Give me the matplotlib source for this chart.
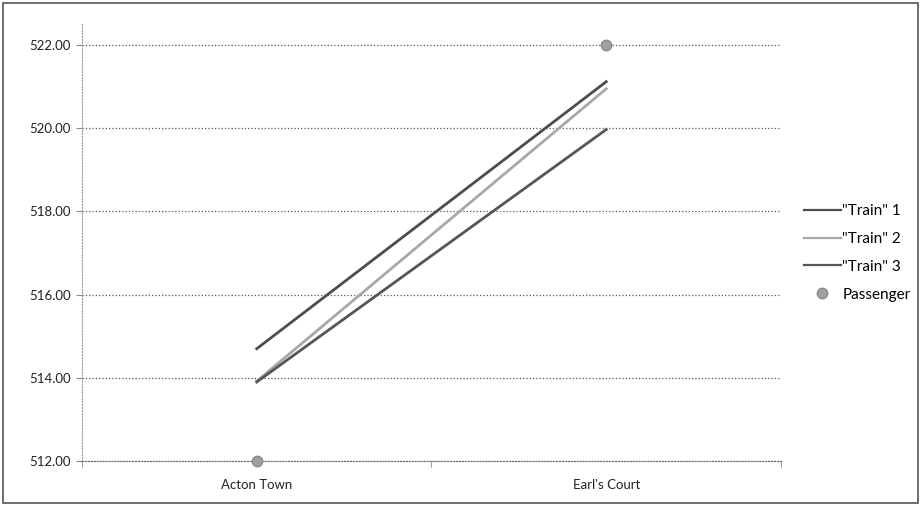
import matplotlib.pyplot as plt
from matplotlib.patches import Rectangle

plt.rcParams['font.family'] = ['Lato', 'DejaVu Sans']

# stations along the x axis
stations = ["Acton Town", "Earl's Court"]

# time values per series
train1 = [514.70, 521.12]
train2 = [513.92, 520.95]
train3 = [513.90, 519.97]
passenger = [512.00, 522.00]

yticks = [512, 514, 516, 518, 520, 522]

fig = plt.figure(figsize=(9.21, 5.12), dpi=100)
ax = fig.add_axes([0.089, 0.0996, 0.759, 0.853])

x = list(range(len(stations)))
ax.plot(x, train1, color='#4d4d4d', lw=2.0, label='"Train" 1', zorder=3)
ax.plot(x, train2, color='#a8a8a8', lw=2.0, label='"Train" 2', zorder=3)
ax.plot(x, train3, color='#555555', lw=2.0, label='"Train" 3', zorder=3)
ax.plot(x, passenger, ls='none', marker='o', ms=7.5, color='#a0a0a0',
        markeredgecolor='#8a8a8a', label='Passenger', zorder=4, clip_on=False)

ax.set_xlim(-0.5, 1.5)
ax.set_ylim(512, 522.5)
ax.set_yticks(yticks)
ax.set_yticklabels([f"{v:.2f}" for v in yticks])
ax.set_xticks(x)
ax.set_xticklabels(stations)
ax.set_xticks([-0.5, 0.5, 1.5], minor=True)
ax.tick_params(axis='x', which='major', length=0, pad=13, labelsize=9.5, colors='#222222')
ax.tick_params(axis='x', which='minor', length=4, color='#888888')
ax.tick_params(axis='y', length=4, color='#888888', labelsize=9.5, colors='#222222', pad=4)
ax.yaxis.grid(True, ls=':', color='#555555', lw=0.9)
ax.set_axisbelow(True)

for s in ['top', 'right']:
    ax.spines[s].set_visible(False)
ax.spines['left'].set_color('#999999')
ax.spines['left'].set_linestyle(':')
ax.spines['bottom'].set_color('#666666')
ax.spines['bottom'].set_linestyle(':')

leg = ax.legend(loc='center left', bbox_to_anchor=(0.873, 0.506), bbox_transform=fig.transFigure,
                frameon=False, fontsize=11, handlelength=2.4, handletextpad=0.1,
                labelspacing=0.9, borderpad=0, borderaxespad=0)
for h in leg.get_lines()[:3]:
    h.set_linewidth(1.6)

# outer chart border
fig.patches.append(Rectangle((0.003, 0.018), 0.994, 0.976, transform=fig.transFigure,
                             fill=False, ec='#555555', lw=1.2))

fig.savefig('out.png', dpi=100)
